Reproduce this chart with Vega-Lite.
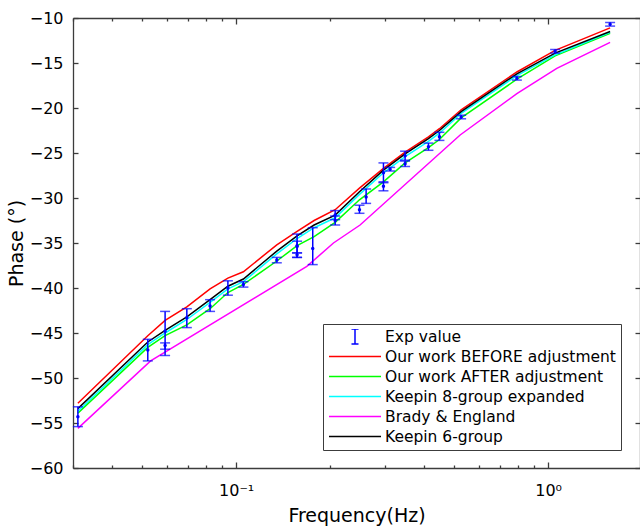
{
  "$schema": "https://vega.github.io/schema/vega-lite/v6.json",
  "width": 567,
  "height": 450,
  "autosize": "none",
  "padding": {"left": 73, "top": 18, "right": 0, "bottom": 60},
  "background": "white",
  "config": {
    "font": "DejaVu Sans",
    "view": {"stroke": null},
    "axis": {
      "domainColor": "#3c3c3c", "domainWidth": 1.3,
      "tickColor": "#3c3c3c", "tickWidth": 1.3,
      "labelColor": "#000000", "titleColor": "#000000",
      "labelFont": "DejaVu Sans", "titleFont": "DejaVu Sans",
      "grid": false, "labelFontSize": 16, "titleFontSize": 19, "titleFontWeight": "normal"
    }
  },
  "datasets": {
    "lines": [
      {"s": "Our work BEFORE adjustment", "f": 0.0311, "p": -52.8},
      {"s": "Our work BEFORE adjustment", "f": 0.0521, "p": -45.3},
      {"s": "Our work BEFORE adjustment", "f": 0.0592, "p": -43.6},
      {"s": "Our work BEFORE adjustment", "f": 0.0695, "p": -42.1},
      {"s": "Our work BEFORE adjustment", "f": 0.0825, "p": -40.1},
      {"s": "Our work BEFORE adjustment", "f": 0.0941, "p": -38.9},
      {"s": "Our work BEFORE adjustment", "f": 0.1055, "p": -38.2},
      {"s": "Our work BEFORE adjustment", "f": 0.135, "p": -35.2},
      {"s": "Our work BEFORE adjustment", "f": 0.1568, "p": -33.7},
      {"s": "Our work BEFORE adjustment", "f": 0.1778, "p": -32.5},
      {"s": "Our work BEFORE adjustment", "f": 0.2077, "p": -31.3},
      {"s": "Our work BEFORE adjustment", "f": 0.2485, "p": -28.9},
      {"s": "Our work BEFORE adjustment", "f": 0.2966, "p": -26.7},
      {"s": "Our work BEFORE adjustment", "f": 0.348, "p": -24.9},
      {"s": "Our work BEFORE adjustment", "f": 0.4134, "p": -23.2},
      {"s": "Our work BEFORE adjustment", "f": 0.4483, "p": -22.3},
      {"s": "Our work BEFORE adjustment", "f": 0.5262, "p": -20.2},
      {"s": "Our work BEFORE adjustment", "f": 0.794, "p": -16.0},
      {"s": "Our work BEFORE adjustment", "f": 1.053, "p": -13.6},
      {"s": "Our work BEFORE adjustment", "f": 1.58, "p": -11.1},

      {"s": "Our work AFTER adjustment", "f": 0.0311, "p": -53.9},
      {"s": "Our work AFTER adjustment", "f": 0.0521, "p": -46.6},
      {"s": "Our work AFTER adjustment", "f": 0.0592, "p": -45.3},
      {"s": "Our work AFTER adjustment", "f": 0.0695, "p": -44.1},
      {"s": "Our work AFTER adjustment", "f": 0.0825, "p": -42.3},
      {"s": "Our work AFTER adjustment", "f": 0.0941, "p": -40.5},
      {"s": "Our work AFTER adjustment", "f": 0.1055, "p": -39.6},
      {"s": "Our work AFTER adjustment", "f": 0.135, "p": -37.0},
      {"s": "Our work AFTER adjustment", "f": 0.1568, "p": -35.3},
      {"s": "Our work AFTER adjustment", "f": 0.1778, "p": -34.3},
      {"s": "Our work AFTER adjustment", "f": 0.2077, "p": -32.7},
      {"s": "Our work AFTER adjustment", "f": 0.2485, "p": -30.2},
      {"s": "Our work AFTER adjustment", "f": 0.2966, "p": -28.2},
      {"s": "Our work AFTER adjustment", "f": 0.348, "p": -26.1},
      {"s": "Our work AFTER adjustment", "f": 0.4134, "p": -24.4},
      {"s": "Our work AFTER adjustment", "f": 0.4483, "p": -23.5},
      {"s": "Our work AFTER adjustment", "f": 0.5262, "p": -21.1},
      {"s": "Our work AFTER adjustment", "f": 0.794, "p": -16.8},
      {"s": "Our work AFTER adjustment", "f": 1.053, "p": -14.2},
      {"s": "Our work AFTER adjustment", "f": 1.58, "p": -11.7},

      {"s": "Keepin 8-group expanded", "f": 0.0311, "p": -53.7},
      {"s": "Keepin 8-group expanded", "f": 0.0521, "p": -46.3},
      {"s": "Keepin 8-group expanded", "f": 0.0592, "p": -45.0},
      {"s": "Keepin 8-group expanded", "f": 0.0695, "p": -43.5},
      {"s": "Keepin 8-group expanded", "f": 0.0825, "p": -41.6},
      {"s": "Keepin 8-group expanded", "f": 0.0941, "p": -40.1},
      {"s": "Keepin 8-group expanded", "f": 0.1055, "p": -39.3},
      {"s": "Keepin 8-group expanded", "f": 0.135, "p": -36.2},
      {"s": "Keepin 8-group expanded", "f": 0.1568, "p": -34.5},
      {"s": "Keepin 8-group expanded", "f": 0.1778, "p": -33.3},
      {"s": "Keepin 8-group expanded", "f": 0.2077, "p": -32.2},
      {"s": "Keepin 8-group expanded", "f": 0.2485, "p": -29.6},
      {"s": "Keepin 8-group expanded", "f": 0.2966, "p": -27.2},
      {"s": "Keepin 8-group expanded", "f": 0.348, "p": -25.4},
      {"s": "Keepin 8-group expanded", "f": 0.4134, "p": -23.7},
      {"s": "Keepin 8-group expanded", "f": 0.4483, "p": -22.8},
      {"s": "Keepin 8-group expanded", "f": 0.5262, "p": -20.6},
      {"s": "Keepin 8-group expanded", "f": 0.794, "p": -16.4},
      {"s": "Keepin 8-group expanded", "f": 1.053, "p": -14.1},
      {"s": "Keepin 8-group expanded", "f": 1.58, "p": -11.6},

      {"s": "Brady & England", "f": 0.0311, "p": -55.6},
      {"s": "Brady & England", "f": 0.0532, "p": -48.1},
      {"s": "Brady & England", "f": 0.1685, "p": -37.6},
      {"s": "Brady & England", "f": 0.2051, "p": -35.0},
      {"s": "Brady & England", "f": 0.2496, "p": -33.0},
      {"s": "Brady & England", "f": 0.5224, "p": -23.0},
      {"s": "Brady & England", "f": 0.794, "p": -18.4},
      {"s": "Brady & England", "f": 1.066, "p": -15.6},
      {"s": "Brady & England", "f": 1.58, "p": -12.7},

      {"s": "Keepin 6-group", "f": 0.0311, "p": -53.4},
      {"s": "Keepin 6-group", "f": 0.0521, "p": -46.0},
      {"s": "Keepin 6-group", "f": 0.0592, "p": -44.7},
      {"s": "Keepin 6-group", "f": 0.0695, "p": -43.2},
      {"s": "Keepin 6-group", "f": 0.0825, "p": -41.3},
      {"s": "Keepin 6-group", "f": 0.0941, "p": -39.8},
      {"s": "Keepin 6-group", "f": 0.1055, "p": -39.0},
      {"s": "Keepin 6-group", "f": 0.135, "p": -35.9},
      {"s": "Keepin 6-group", "f": 0.1568, "p": -34.2},
      {"s": "Keepin 6-group", "f": 0.1778, "p": -33.0},
      {"s": "Keepin 6-group", "f": 0.2077, "p": -31.9},
      {"s": "Keepin 6-group", "f": 0.2485, "p": -29.3},
      {"s": "Keepin 6-group", "f": 0.2966, "p": -26.9},
      {"s": "Keepin 6-group", "f": 0.348, "p": -25.1},
      {"s": "Keepin 6-group", "f": 0.4134, "p": -23.4},
      {"s": "Keepin 6-group", "f": 0.4483, "p": -22.5},
      {"s": "Keepin 6-group", "f": 0.5262, "p": -20.4},
      {"s": "Keepin 6-group", "f": 0.794, "p": -16.2},
      {"s": "Keepin 6-group", "f": 1.053, "p": -13.9},
      {"s": "Keepin 6-group", "f": 1.58, "p": -11.5}
    ],
    "exp": [
      {"s": "Exp value", "f": 0.0311, "p": -54.3, "lo": -55.4, "hi": -53.2},
      {"s": "Exp value", "f": 0.0521, "p": -46.9, "lo": -48.1, "hi": -45.7},
      {"s": "Exp value", "f": 0.0592, "p": -44.8, "lo": -47.5, "hi": -42.6},
      {"s": "Exp value", "f": 0.0592, "p": -46.4, "lo": -46.8, "hi": -46.1},
      {"s": "Exp value", "f": 0.0695, "p": -43.3, "lo": -44.4, "hi": -42.3},
      {"s": "Exp value", "f": 0.0825, "p": -42.0, "lo": -42.6, "hi": -41.3},
      {"s": "Exp value", "f": 0.0941, "p": -40.0, "lo": -40.8, "hi": -39.2},
      {"s": "Exp value", "f": 0.1055, "p": -39.6, "lo": -39.9, "hi": -39.3},
      {"s": "Exp value", "f": 0.135, "p": -36.9, "lo": -37.2, "hi": -36.6},
      {"s": "Exp value", "f": 0.1568, "p": -35.3, "lo": -36.6, "hi": -34.0},
      {"s": "Exp value", "f": 0.1568, "p": -36.3, "lo": -36.6, "hi": -36.1},
      {"s": "Exp value", "f": 0.1568, "p": -35.4, "lo": -36.1, "hi": -34.8},
      {"s": "Exp value", "f": 0.176, "p": -35.6, "lo": -37.4, "hi": -33.3},
      {"s": "Exp value", "f": 0.2077, "p": -31.9, "lo": -32.4, "hi": -31.4},
      {"s": "Exp value", "f": 0.2077, "p": -32.5, "lo": -33.0, "hi": -32.0},
      {"s": "Exp value", "f": 0.2485, "p": -31.3, "lo": -31.7, "hi": -30.8},
      {"s": "Exp value", "f": 0.261, "p": -29.9, "lo": -30.6, "hi": -29.0},
      {"s": "Exp value", "f": 0.2966, "p": -27.2, "lo": -28.3, "hi": -26.1},
      {"s": "Exp value", "f": 0.2966, "p": -28.7, "lo": -29.2, "hi": -28.2},
      {"s": "Exp value", "f": 0.3116, "p": -26.8, "lo": -27.0, "hi": -26.6},
      {"s": "Exp value", "f": 0.348, "p": -25.3, "lo": -25.8, "hi": -24.8},
      {"s": "Exp value", "f": 0.348, "p": -26.2, "lo": -26.5, "hi": -25.9},
      {"s": "Exp value", "f": 0.4134, "p": -24.3, "lo": -24.7, "hi": -23.9},
      {"s": "Exp value", "f": 0.4483, "p": -23.2, "lo": -23.6, "hi": -22.7},
      {"s": "Exp value", "f": 0.5262, "p": -21.0, "lo": -21.2, "hi": -20.8},
      {"s": "Exp value", "f": 0.794, "p": -16.7, "lo": -16.9, "hi": -16.5},
      {"s": "Exp value", "f": 1.053, "p": -13.7, "lo": -13.9, "hi": -13.5},
      {"s": "Exp value", "f": 1.58, "p": -10.7, "lo": -10.9, "hi": -10.5}
    ]
  },
  "resolve": {"axis": {"x": "independent", "y": "independent"}},
  "layer": [
    {
      "data": {"name": "lines"},
      "mark": {"type": "line", "strokeWidth": 1.5},
      "encoding": {
        "x": {
          "field": "f", "type": "quantitative",
          "scale": {"type": "log", "domain": [0.03, 1.97], "nice": false},
          "axis": {
            "orient": "bottom", "title": "Frequency(Hz)",
            "values": [0.03, 0.04, 0.05, 0.06, 0.07, 0.08, 0.09, 0.1, 0.2, 0.3, 0.4, 0.5, 0.6, 0.7, 0.8, 0.9, 1],
            "labelExpr": "datum.value == 0.1 ? '10⁻¹' : (datum.value == 1 ? '10⁰' : '')",
            "tickSize": {"condition": {"test": "datum.value == 0.1 || datum.value == 1", "value": -6}, "value": -3},
            "labelPadding": 20, "titlePadding": 5, "labelFlush": false, "labelOverlap": false
          }
        },
        "y": {
          "field": "p", "type": "quantitative",
          "scale": {"domain": [-60, -10], "nice": false, "zero": false},
          "axis": {
            "orient": "left", "title": "Phase (°)",
            "values": [-60, -55, -50, -45, -40, -35, -30, -25, -20, -15, -10],
            "tickSize": -5, "labelPadding": 15, "titlePadding": 3, "labelFlush": false
          }
        },
        "color": {
          "field": "s", "type": "nominal",
          "scale": {
            "domain": ["Exp value", "Our work BEFORE adjustment", "Our work AFTER adjustment", "Keepin 8-group expanded", "Brady & England", "Keepin 6-group"],
            "range": ["#0000ff", "#ff0000", "#00ff00", "#00ffff", "#ff00ff", "#000000"]
          },
          "legend": {
            "orient": "none", "legendX": 250, "legendY": 306, "title": null,
            "padding": 5, "strokeColor": "#3c3c3c", "fillColor": "white",
            "labelFontSize": 15.5, "labelFont": "DejaVu Sans", "labelColor": "#000000", "labelOffset": 3, "labelLimit": 400,
            "symbolType": "stroke", "symbolSize": 2704, "symbolStrokeWidth": 1.5,
            "clipHeight": 15, "rowPadding": 4,
            "encode": {
              "symbols": {
                "update": {
                  "shape": {"signal": "datum.value === 'Exp value' ? 'M0,-0.29L0,0.29M-0.135,-0.29L0.135,-0.29M-0.135,0.29L0.135,0.29' : 'stroke'"},
                  "fill": {"value": "transparent"},
                  "stroke": {"signal": "scale('color', datum.value)"},
                  "strokeWidth": {"value": 1.5},
                  "opacity": {"value": 1}
                }
              }
            }
          }
        }
      }
    },
    {
      "data": {"name": "exp"},
      "mark": {"type": "rule", "strokeWidth": 1.5},
      "encoding": {
        "x": {
          "field": "f", "type": "quantitative",
          "axis": {
            "orient": "top", "title": null, "labels": false,
            "values": [0.03, 0.04, 0.05, 0.06, 0.07, 0.08, 0.09, 0.1, 0.2, 0.3, 0.4, 0.5, 0.6, 0.7, 0.8, 0.9, 1],
            "tickSize": {"condition": {"test": "datum.value == 0.1 || datum.value == 1", "value": -6}, "value": -3}
          }
        },
        "y": {
          "field": "lo", "type": "quantitative",
          "axis": {
            "orient": "right", "title": null, "labels": false,
            "values": [-60, -55, -50, -45, -40, -35, -30, -25, -20, -15, -10],
            "tickSize": -5
          }
        },
        "y2": {"field": "hi"},
        "color": {"field": "s", "type": "nominal"}
      }
    },
    {
      "data": {"name": "exp"},
      "mark": {"type": "tick", "orient": "horizontal", "size": 10, "thickness": 1.5},
      "encoding": {
        "x": {"field": "f", "type": "quantitative", "axis": null},
        "y": {"field": "lo", "type": "quantitative", "axis": null},
        "color": {"field": "s", "type": "nominal"}
      }
    },
    {
      "data": {"name": "exp"},
      "mark": {"type": "tick", "orient": "horizontal", "size": 10, "thickness": 1.5},
      "encoding": {
        "x": {"field": "f", "type": "quantitative", "axis": null},
        "y": {"field": "hi", "type": "quantitative", "axis": null},
        "color": {"field": "s", "type": "nominal"}
      }
    },
    {
      "data": {"name": "exp"},
      "mark": {"type": "point", "filled": true, "size": 12, "opacity": 1},
      "encoding": {
        "x": {"field": "f", "type": "quantitative", "axis": null},
        "y": {"field": "p", "type": "quantitative", "axis": null},
        "color": {"field": "s", "type": "nominal"}
      }
    }
  ]
}
